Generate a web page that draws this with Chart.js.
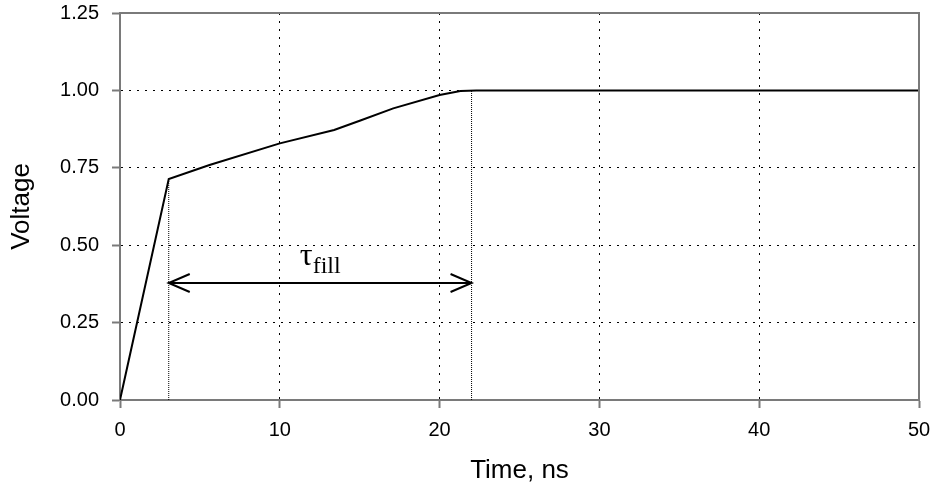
<!DOCTYPE html>
<html>
<head>
<meta charset="utf-8">
<script src="https://cdn.jsdelivr.net/npm/chart.js@4/dist/chart.umd.min.js"></script>
<style>
  html, body { margin: 0; padding: 0; background: #fff; }
  #wrap { width: 933px; height: 492px; position: relative; }
</style>
</head>
<body>
<div id="wrap"><canvas id="c" width="933" height="492"></canvas></div>
<script>
// ---- data ----
const timeNs   = [0, 3.05, 5.6, 10, 13.4, 15, 17.1, 20, 21.3, 22.3, 50];
const voltage  = [0, 0.714, 0.759, 0.829, 0.872, 0.902, 0.942, 0.985, 0.998, 1.0, 1.0];
const xTicks   = [0, 10, 20, 30, 40, 50];
const yTicks   = [0.00, 0.25, 0.50, 0.75, 1.00, 1.25];
const fillStart = [3.05, 0.714];   // start of filling (time, voltage)
const fillEnd   = [22, 1.0];       // end of filling (time, voltage)
const arrowLevel = 0.378;          // voltage level of the tau arrow
const tauLabelAt = [11.25, 0.436]; // label anchor (time, voltage)
const tauMain = "τ";
const tauSub  = "fill";

const FRAME = "#7a7a7a";
const sansFont = "'Liberation Sans', Arial, sans-serif";
const serifFont = "'Liberation Serif', 'Times New Roman', serif";

const mainData = timeNs.map((t, i) => ({ x: t, y: voltage[i] }));

const annotate = {
  id: 'annotate',
  afterDatasetsDraw(chart) {
    const { ctx, chartArea: a, scales: { x, y } } = chart;
    ctx.save();
    // plot frame (top & right, gray)
    ctx.strokeStyle = FRAME;
    ctx.lineWidth = 2;
    ctx.beginPath();
    ctx.moveTo(a.left, a.top);
    ctx.lineTo(a.right, a.top);
    ctx.lineTo(a.right, a.bottom);
    ctx.stroke();

    // double-headed arrow
    const x1 = x.getPixelForValue(fillStart[0]);
    const x2 = x.getPixelForValue(fillEnd[0]);
    const ya = y.getPixelForValue(arrowLevel);
    ctx.strokeStyle = '#000';
    ctx.lineWidth = 2;
    ctx.beginPath();
    ctx.moveTo(x1, ya); ctx.lineTo(x2, ya);
    ctx.moveTo(x1 + 21, ya - 9); ctx.lineTo(x1, ya); ctx.lineTo(x1 + 21, ya + 9);
    ctx.moveTo(x2 - 21, ya - 9); ctx.lineTo(x2, ya); ctx.lineTo(x2 - 21, ya + 9);
    ctx.stroke();

    // tau_fill label
    const tx = x.getPixelForValue(tauLabelAt[0]);
    const ty = y.getPixelForValue(tauLabelAt[1]);
    ctx.fillStyle = '#000';
    ctx.textAlign = 'left';
    ctx.textBaseline = 'alphabetic';
    ctx.font = "32px " + serifFont;
    ctx.fillText(tauMain, tx, ty);
    const w = ctx.measureText(tauMain).width;
    ctx.font = "24px " + serifFont;
    ctx.fillText(tauSub, tx + w, ty + 8);
    ctx.restore();
  }
};

const gridColor = (ctx) => {
  const v = ctx.tick ? ctx.tick.value : null;
  return (v === 0 || v === 50 || v === 1.25) ? 'rgba(0,0,0,0)' : '#000';
};

new Chart(document.getElementById('c'), {
  type: 'line',
  data: {
    datasets: [
      {
        data: mainData,
        borderColor: '#000',
        borderWidth: 2,
        pointRadius: 0,
        tension: 0,
        fill: false
      },
      {
        data: [{ x: fillStart[0], y: 0 }, { x: fillStart[0], y: fillStart[1] }],
        borderColor: '#000',
        borderWidth: 1,
        borderDash: [1, 1],
        pointRadius: 0,
        fill: false
      },
      {
        data: [{ x: fillEnd[0], y: 0 }, { x: fillEnd[0], y: fillEnd[1] }],
        borderColor: '#000',
        borderWidth: 1,
        borderDash: [1, 1],
        pointRadius: 0,
        fill: false
      }
    ]
  },
  options: {
    responsive: false,
    animation: false,
    devicePixelRatio: 1,
    layout: { padding: { top: 13, right: 14, left: 0, bottom: 0 } },
    plugins: { legend: { display: false }, tooltip: { enabled: false } },
    scales: {
      x: {
        type: 'linear',
        min: 0, max: 50,
        afterBuildTicks: (s) => { s.ticks = xTicks.map(v => ({ value: v })); },
        afterFit: (s) => {
          s.height = 92;
          s.paddingLeft = 0; s.paddingRight = 0; s.paddingTop = 0; s.paddingBottom = 0;
        },
        ticks: {
          color: '#000',
          font: { family: sansFont, size: 20 },
          padding: 10,
          maxRotation: 0,
          callback: (v) => String(v)
        },
        grid: {
          color: gridColor,
          lineWidth: 1,
          tickColor: FRAME,
          tickLength: 8,
          tickWidth: 2
        },
        border: { display: true, color: FRAME, width: 2, dash: [2, 6] },
        title: {
          display: true,
          text: 'Time, ns',
          color: '#000',
          font: { family: sansFont, size: 26 },
          padding: { top: 0, bottom: 6 }
        }
      },
      y: {
        type: 'linear',
        min: 0, max: 1.25,
        afterBuildTicks: (s) => { s.ticks = yTicks.map(v => ({ value: v })); },
        afterFit: (s) => {
          s.width = 120;
          s.paddingLeft = 0; s.paddingRight = 0; s.paddingTop = 0; s.paddingBottom = 0;
        },
        ticks: {
          color: '#000',
          font: { family: sansFont, size: 20 },
          padding: 13,
          callback: (v) => Number(v).toFixed(2)
        },
        grid: {
          color: gridColor,
          lineWidth: 1,
          tickColor: FRAME,
          tickLength: 8,
          tickWidth: 2
        },
        border: { display: true, color: FRAME, width: 2, dash: [2, 6] },
        title: {
          display: true,
          text: 'Voltage',
          color: '#000',
          font: { family: sansFont, size: 26 },
          padding: { top: 6, bottom: 0 }
        }
      }
    }
  },
  plugins: [annotate]
});
</script>
</body>
</html>
